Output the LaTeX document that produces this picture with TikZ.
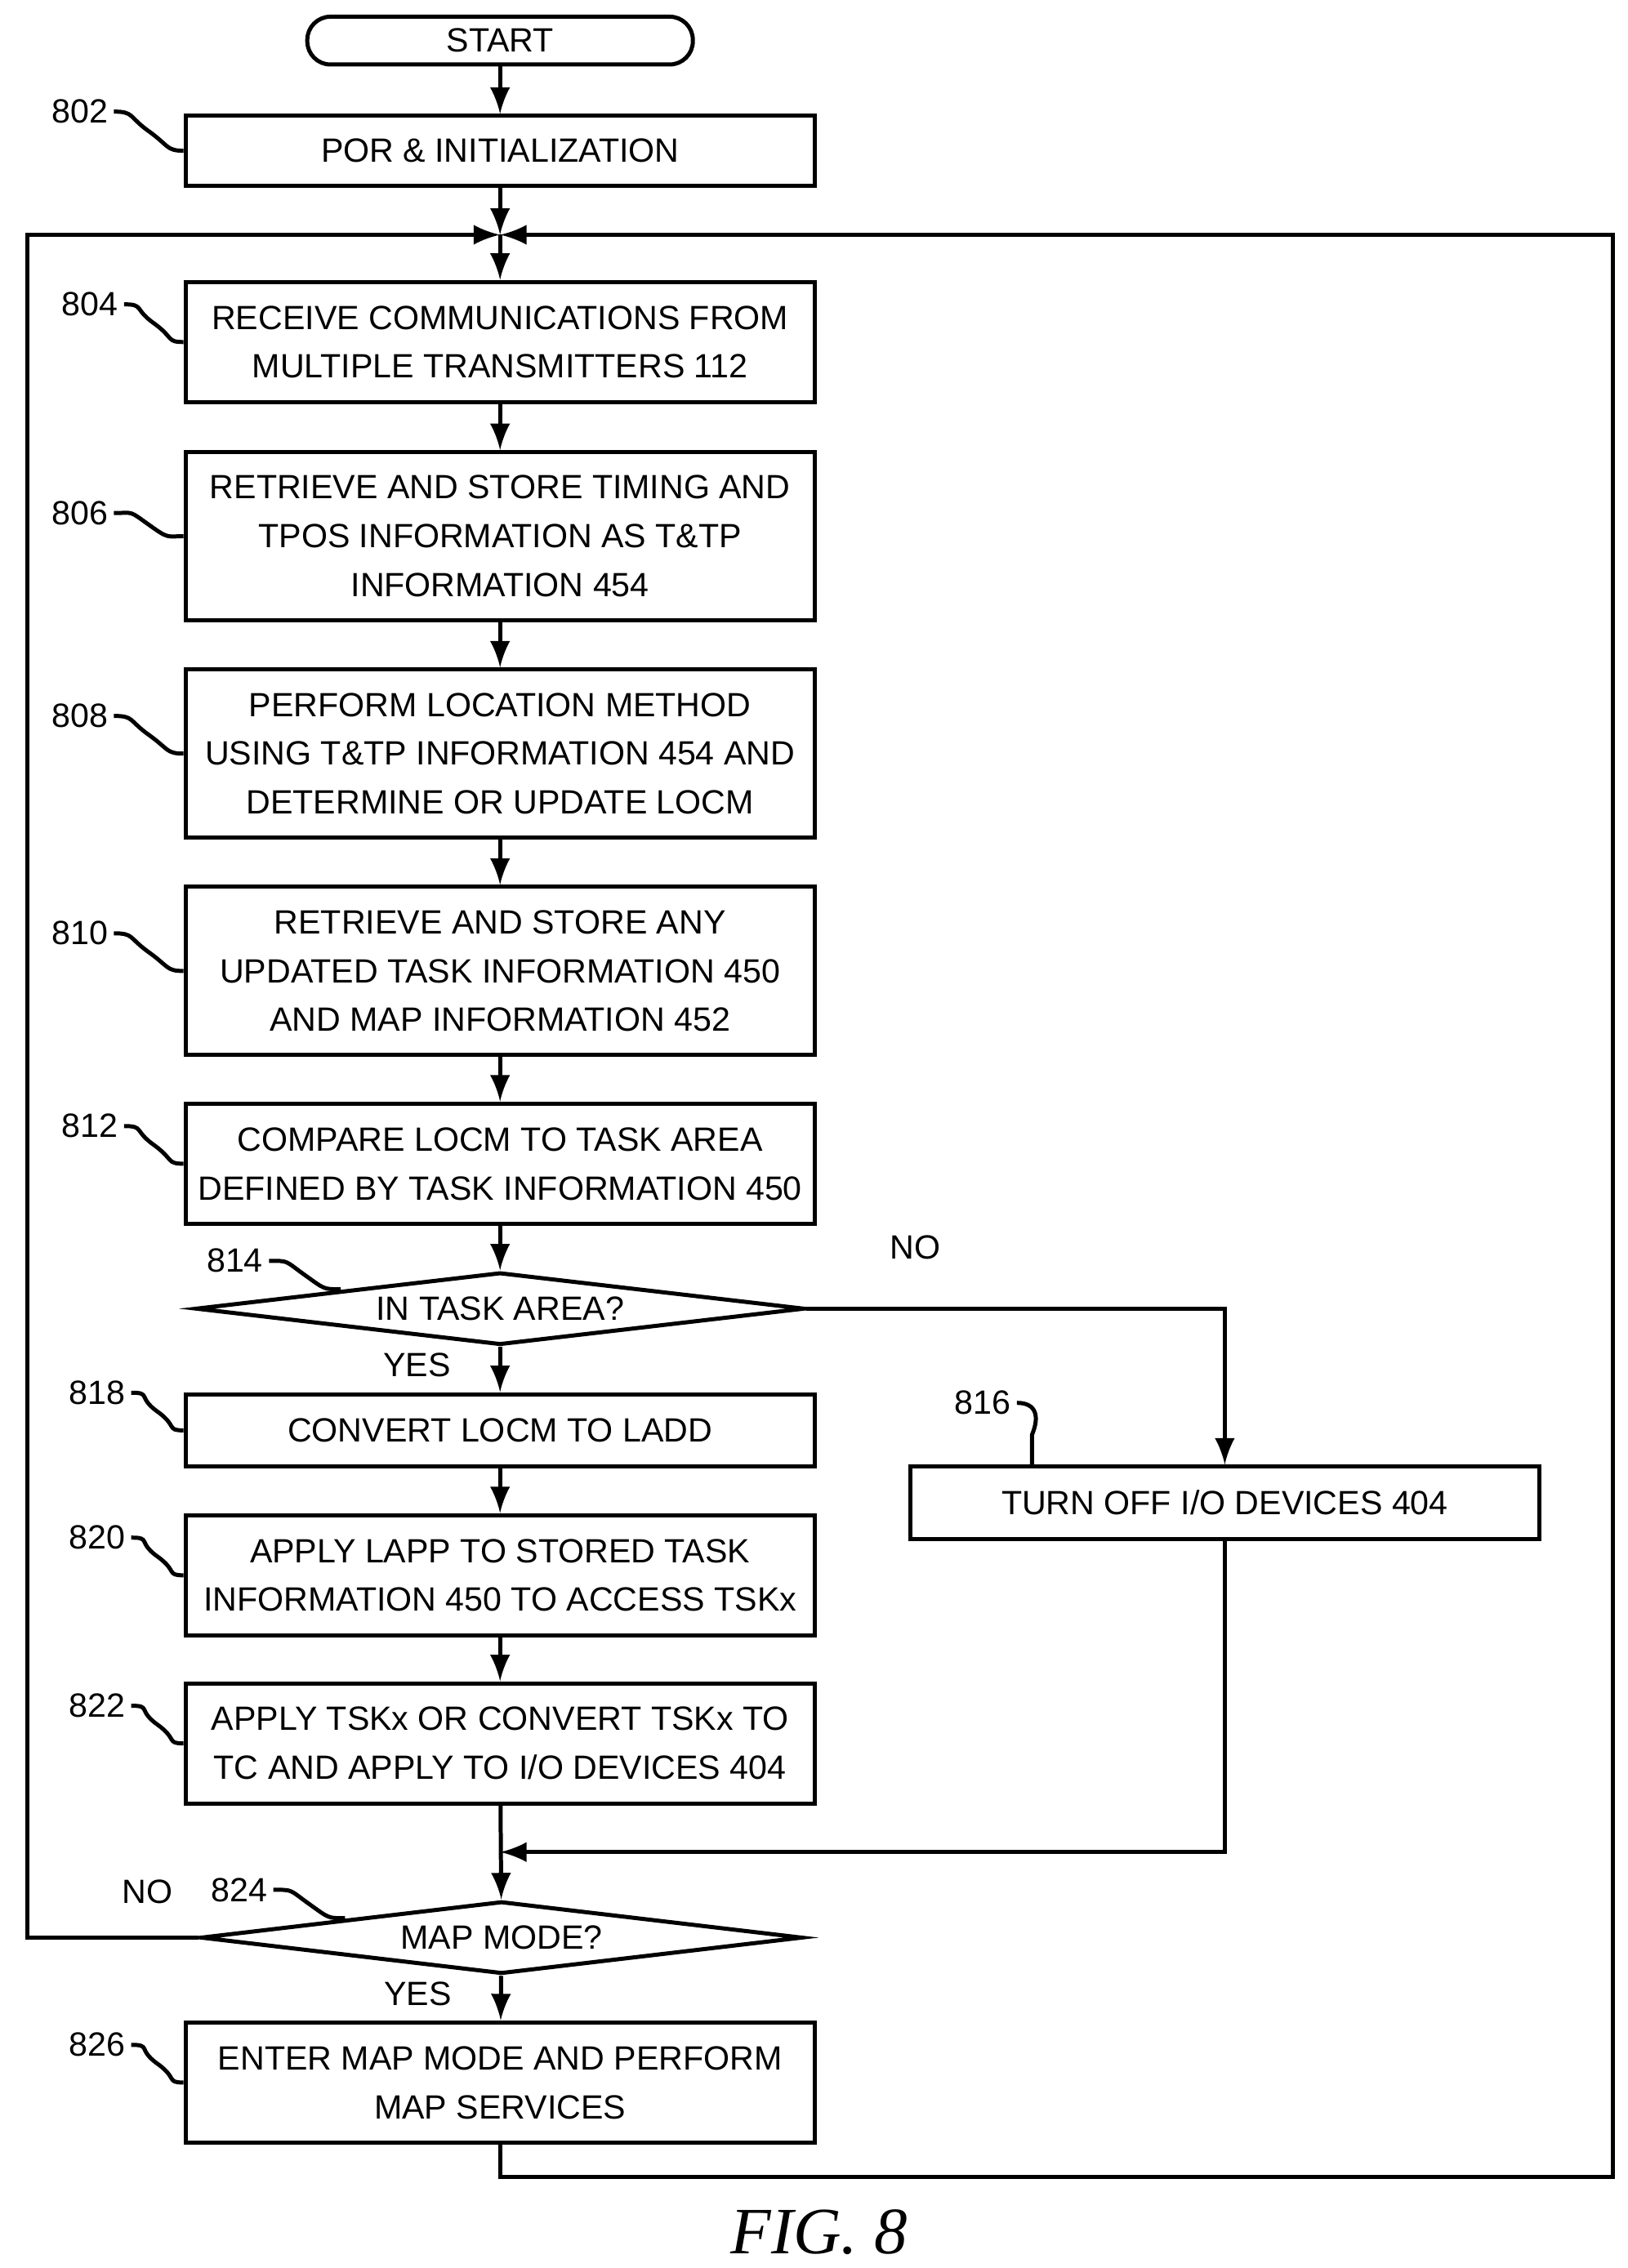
\documentclass[tikz,border=0pt]{standalone}
\usepackage{fontspec}
\setmainfont{Liberation Sans}
\newfontfamily\figfont{Liberation Serif}
\usetikzlibrary{calc,arrows,shapes.geometric}

\tikzset{
  block/.style={draw,thick,minimum width=4.34cm,align=center,inner sep=0pt},
  term/.style={draw,thick,rounded corners=1.6mm,minimum width=2.66cm,minimum height=0.33cm,inner sep=0pt},
  test/.style={draw,thick,diamond,aspect=8.7,minimum width=4.2cm,minimum height=0.5cm,inner sep=0pt},
  ref/.style={inner sep=1pt},
  flow/.style={thick,->,>=latex}
}
\newcommand{\refmark}[2]{% label node, target
  \draw[thick] (#1.east) .. controls +(14,0) and +(-14,-10) .. ($(#1.east)!.5!(#2)$)
     .. controls +(14,10) and +(-12,0) .. (#2);}

\begin{document}
\begin{tikzpicture}[x=0.1mm,y=-0.1mm,font=\fontsize{6.6}{9.6}\selectfont]
  \useasboundingbox (0,0) rectangle (1123,1565);

  \node[term] (start) at (345,28) {START};
  \node[block,minimum height=0.48cm] (s802) at (345,104) {POR \& INITIALIZATION};
  \coordinate (join) at (345,162);
  \node[block,minimum height=0.83cm] (s804) at (345,236) {RECEIVE COMMUNICATIONS FROM\\MULTIPLE TRANSMITTERS 112};
  \node[block,minimum height=1.16cm] (s806) at (345,370) {RETRIEVE AND STORE TIMING AND\\TPOS INFORMATION AS T\&TP\\INFORMATION 454};
  \node[block,minimum height=1.16cm] (s808) at (345,520) {PERFORM LOCATION METHOD\\USING T\&TP INFORMATION 454 AND\\DETERMINE OR UPDATE LOCM};
  \node[block,minimum height=1.16cm] (s810) at (345,670) {RETRIEVE AND STORE ANY\\UPDATED TASK INFORMATION 450\\AND MAP INFORMATION 452};
  \node[block,minimum height=0.83cm] (s812) at (345,803) {COMPARE LOCM TO TASK AREA\\DEFINED BY TASK INFORMATION 450};
  \node[test] (s814) at (345,903) {IN TASK AREA?};
  \node[block,minimum height=0.5cm] (s818) at (345,987) {CONVERT LOCM TO LADD};
  \node[block,minimum height=0.83cm] (s820) at (345,1087) {APPLY LAPP TO STORED TASK\\INFORMATION 450 TO ACCESS TSKx};
  \node[block,minimum height=0.83cm] (s822) at (345,1203) {APPLY TSKx OR CONVERT TSKx TO\\TC AND APPLY TO I/O DEVICES 404};
  \node[block,minimum height=0.5cm] (s816) at (845,1037) {TURN OFF I/O DEVICES 404};
  \coordinate (merge) at (345,1278);
  \node[test,minimum width=4.15cm] (s824) at (346,1337) {MAP MODE?};
  \node[block,minimum height=0.83cm] (s826) at (345,1437) {ENTER MAP MODE AND PERFORM\\MAP SERVICES};

  % main flow
  \draw[flow] (start) -- (s802);
  \draw[flow] (s802) -- (join);
  \draw[flow] (join) -- (s804);
  \draw[flow] (s804) -- (s806);
  \draw[flow] (s806) -- (s808);
  \draw[flow] (s808) -- (s810);
  \draw[flow] (s810) -- (s812);
  \draw[flow] (s812) -- (s814);
  \draw[flow] (s814) -- node[pos=0.4,left=6pt]{YES} (s818);
  \draw[flow] (s818) -- (s820);
  \draw[flow] (s820) -- (s822);
  \draw[flow] (s822) -- (s824);
  \draw[flow] (s824) -- node[pos=0.4,left=6pt]{YES} (s826);
  \draw[flow] (s814.east) -| node[pos=0.13,above=6pt]{NO} (s816.north);
  \draw[flow] (s816.south) |- (merge);
  % loops
  \draw[flow] (s824.west) -- node[pos=0.3,above=3pt]{NO} ++(-118,0) |- (join);
  \draw[flow] (s826.south) -- ++(0,22) -| (1113,162) -- (join);

  % reference numerals
  \node[ref] (r802) at (55,77) {802};  \refmark{r802}{s802.west}
  \node[ref] (r804) at (62,210) {804}; \refmark{r804}{s804.west}
  \node[ref] (r806) at (55,354) {806}; \refmark{r806}{s806.west}
  \node[ref] (r808) at (55,494) {808}; \refmark{r808}{s808.west}
  \node[ref] (r810) at (55,644) {810}; \refmark{r810}{s810.west}
  \node[ref] (r812) at (62,777) {812}; \refmark{r812}{s812.west}
  \node[ref] (r814) at (162,870) {814}; \refmark{r814}{$(s814.north)+(-110,13)$}
  \node[ref] (r818) at (67,961) {818}; \refmark{r818}{s818.west}
  \node[ref] (r820) at (67,1061) {820}; \refmark{r820}{s820.west}
  \node[ref] (r822) at (67,1177) {822}; \refmark{r822}{s822.west}
  \node[ref] (r824) at (165,1304) {824}; \refmark{r824}{$(s824.north)+(-108,13)$}
  \node[ref] (r826) at (67,1411) {826}; \refmark{r826}{s826.west}
  \node[ref] (r816) at (678,968) {816};
  \draw[thick] (r816.east) .. controls +(14,0) and +(5,-12) .. (712,990) -- (712,1012);

  \node (fig) at (565,1540) {\figfont\itshape\fontsize{13}{15}\selectfont FIG. 8};
\end{tikzpicture}
\end{document}
